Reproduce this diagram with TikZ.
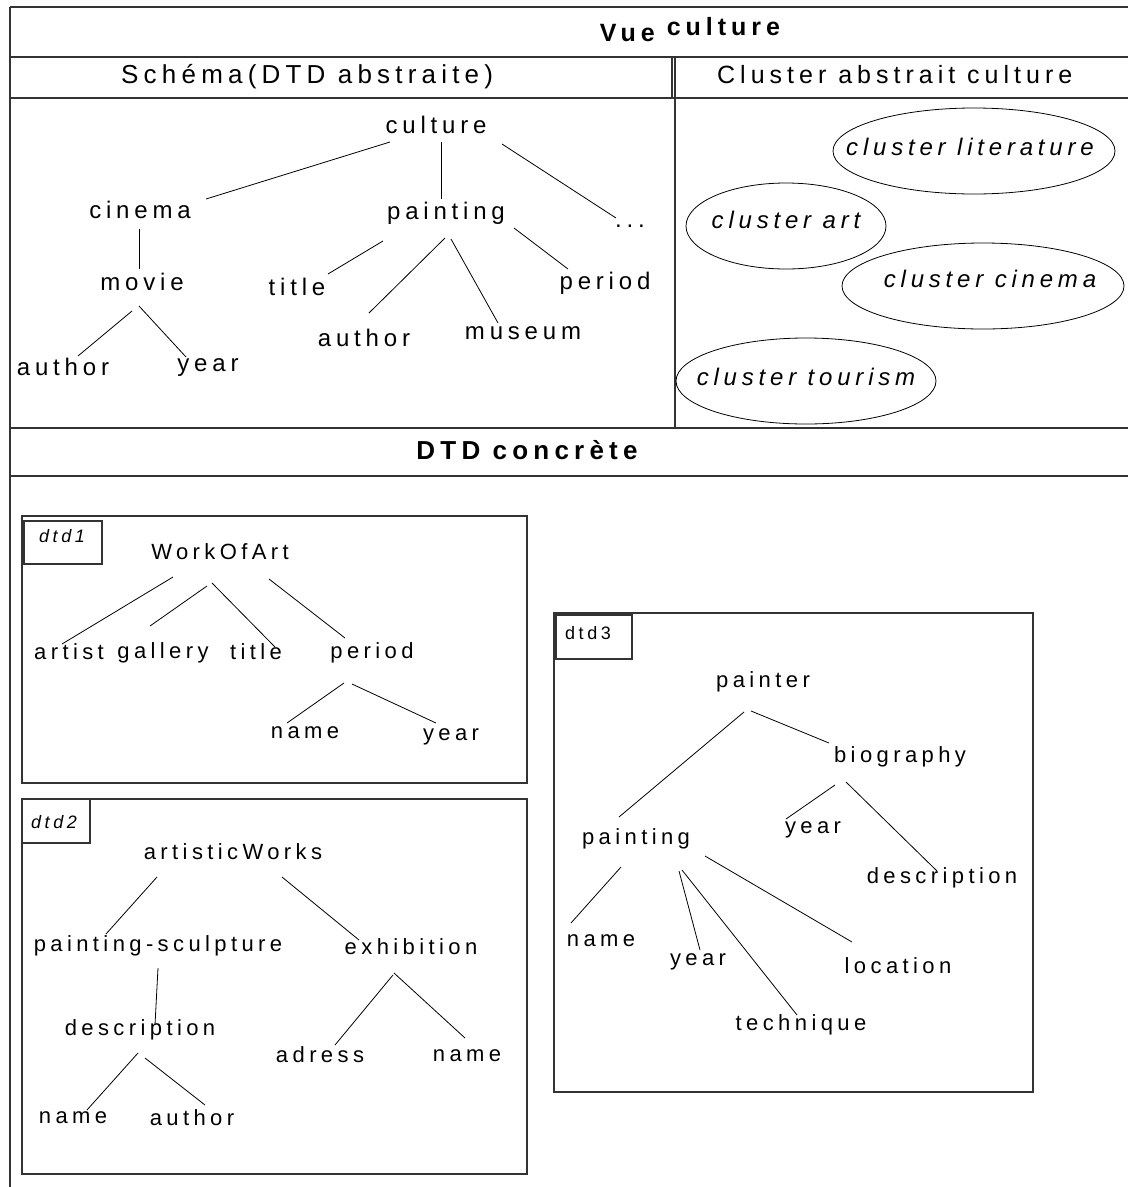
\documentclass[tikz,border=0pt]{standalone}
\usepackage{fontspec}
\setmainfont{Liberation Sans}[LetterSpace=20]
\usetikzlibrary{shapes.geometric}
\newcommand\lnk[6]{\draw[edge] ([shift={(#2,#3)}]#1.center) -- ([shift={(#5,#6)}]#4.center);}
\begin{document}
\begin{tikzpicture}[x=1bp,y=-1bp,
  frame/.style={draw=black!80, line width=1.2bp},
  edge/.style={draw=black, line width=0.8bp},
  sn/.style={inner sep=0, font=\fontsize{24bp}{28bp}\selectfont, text height=17.3bp, text depth=4.8bp},
  dn/.style={inner sep=0, font=\fontsize{22bp}{26bp}\selectfont, text height=15.8bp, text depth=4.4bp},
  itx/.style={sn, font=\fontsize{24bp}{28bp}\selectfont\itshape},
  hdr/.style={inner sep=0, font=\fontsize{25bp}{30bp}\selectfont},
  bhdr/.style={inner sep=0, font=\fontsize{25bp}{30bp}\selectfont\bfseries},
  lab/.style={inner sep=0, font=\fontsize{18bp}{22bp}\selectfont},
  clus/.style={ellipse, draw=black, line width=0.8bp, inner sep=0}]
\useasboundingbox (0,0) rectangle (1128,1187);
\fill[white] (0,0) rectangle (1128,1187);
% frame
\draw[frame] (10,7) -- (1128,7);
\draw[frame] (10,7) -- (10,1187);
\draw[frame] (10,57) -- (1128,57);
\draw[frame] (10,98) -- (1128,98);
\draw[frame] (672,57) -- (672,98);
\draw[frame] (675,57) -- (675,428);
\draw[frame] (10,428) -- (1128,428);
\draw[frame] (10,476) -- (1128,476);
% headers
\node[bhdr, anchor=base] (vue) at (690,41) {Vue \raisebox{6bp}{culture}};
\node[hdr, font=\fontsize{26bp}{30bp}\selectfont, anchor=base west] (schema) at (121,83) {Schéma(DTD abstraite)};
\node[hdr, anchor=base west] (clab) at (717,83) {Cluster abstrait culture};
\node[bhdr, font=\fontsize{26bp}{30bp}\selectfont\bfseries, anchor=base] (conc) at (527,459) {DTD concrète};
% schema tree
\node[sn] (sc) at (436,127) {culture};
\node[sn] (sci) at (140,212) {cinema};
\node[sn] (spa) at (446,213) {painting};
\node[sn] (sdo) at (630,221) {...};
\node[sn] (smo) at (142,284) {movie};
\node[sn] (sti) at (297,289) {title};
\node[sn] (spe) at (605,283) {period};
\node[sn] (sau) at (364,340) {author};
\node[sn] (smu) at (523,333) {museum};
\node[sn] (sma) at (63,369) {author};
\node[sn] (sye) at (208,365) {year};
\lnk{sc}{-46}{15}{sci}{66}{-13}
\lnk{sc}{5}{15}{spa}{-5}{-14}
\lnk{sc}{66}{17}{sdo}{-14}{-3}
\lnk{sci}{-1}{17}{smo}{-3}{-15}
\lnk{spa}{-63}{28}{sti}{31}{-15}
\lnk{spa}{-1}{25}{sau}{5}{-27}
\lnk{spa}{5}{26}{smu}{-25}{-10}
\lnk{spa}{68}{15}{spe}{-37}{-14}
\lnk{smo}{-10}{27}{sma}{15}{-13}
\lnk{smo}{-3}{22}{sye}{-22}{-8}
% clusters
\node[clus, minimum width=282bp, minimum height=86bp] (elit) at (974,151) {};
\node[itx] (tlit) at ([shift={(-4,-2)}]elit.center) {cluster literature};
\node[clus, minimum width=200bp, minimum height=86bp] (eart) at (786,226) {};
\node[itx] (tart) at ([shift={(0,-4)}]eart.center) {cluster art};
\node[clus, minimum width=282bp, minimum height=86bp] (ecin) at (983,286) {};
\node[itx] (tcin) at ([shift={(7,-5)}]ecin.center) {cluster cinema};
\node[clus, minimum width=260bp, minimum height=86bp] (etou) at (806,381) {};
\node[itx] (ttou) at ([shift={(0,-2)}]etou.center) {cluster tourism};
% dtd1
\draw[frame] (22,516) rectangle (527,783);
\draw[frame] (24,521) rectangle (102,564);
\node[lab, font=\fontsize{18bp}{22bp}\selectfont\itshape, anchor=base] (l1) at (62,542) {dtd1};
\node[dn] (w) at (220,554) {WorkOfArt};
\node[dn] (ar) at (69,654) {artist};
\node[dn] (ga) at (163,653) {gallery};
\node[dn] (ti) at (256,654) {title};
\node[dn] (pe) at (372,653) {period};
\node[dn] (na) at (305,733) {name};
\node[dn] (ye) at (451,735) {year};
\lnk{w}{-47}{23}{ar}{-7}{-10}
\lnk{w}{-13}{32}{ga}{-13}{-27}
\lnk{w}{-8}{29}{ti}{19}{-7}
\lnk{w}{49}{25}{pe}{-27}{-15}
\lnk{pe}{-28}{30}{na}{-18}{-10}
\lnk{pe}{-20}{31}{ye}{-15}{-12}
% dtd2
\draw[frame] (22,799) rectangle (527,1174);
\draw[frame] (22,799) rectangle (90,843);
\node[lab, font=\fontsize{18bp}{22bp}\selectfont\itshape, anchor=base] (l2) at (54,828) {dtd2};
\node[dn] (aw) at (233,854) {artisticWorks};
\node[dn] (ps) at (158,946) {painting-sculpture};
\node[dn] (ex) at (411,949) {exhibition};
\node[dn] (de) at (140,1030) {description};
\node[dn] (ad) at (320,1057) {adress};
\node[dn] (n2) at (467,1056) {name};
\node[dn] (n1) at (73,1118) {name};
\node[dn] (au) at (192,1120) {author};
\lnk{aw}{-76}{23}{ps}{-52}{-12}
\lnk{aw}{49}{23}{ex}{-52}{-9}
\lnk{ps}{0}{22}{de}{15}{-5}
\lnk{ex}{-18}{26}{ad}{15}{-12}
\lnk{ex}{-17}{24}{n2}{-2}{-18}
\lnk{de}{-2}{23}{n1}{14}{-8}
\lnk{de}{5}{28}{au}{13}{-15}
% dtd3
\draw[frame] (554,613) rectangle (1033,1092);
\draw[frame] (556,615) rectangle (632,659);
\node[lab, anchor=base] (l3) at (588,639) {dtd3};
\node[dn] (pr) at (763,682) {painter};
\node[dn] (bi) at (900,757) {biography};
\node[dn] (pg) at (636,839) {painting};
\node[dn] (y1) at (813,828) {year};
\node[dn] (ds) at (942,878) {description};
\node[dn] (nm) at (601,941) {name};
\node[dn] (y2) at (698,960) {year};
\node[dn] (lo) at (898,968) {location};
\node[dn] (te) at (801,1025) {technique};
\lnk{pr}{-19}{30}{pg}{-17}{-22}
\lnk{pr}{-12}{29}{bi}{-71}{-14}
\lnk{bi}{-65}{28}{y1}{-27}{-9}
\lnk{bi}{-54}{25}{ds}{-5}{-7}
\lnk{pg}{-15}{28}{nm}{-30}{-18}
\lnk{pg}{43}{32}{y2}{2}{-10}
\lnk{pg}{46}{31}{te}{-4}{-10}
\lnk{pg}{69}{17}{lo}{-46}{-26}
\end{tikzpicture}
\end{document}
